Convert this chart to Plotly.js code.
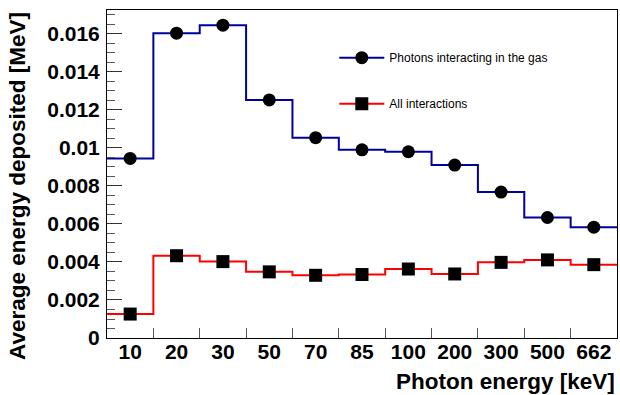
<!DOCTYPE html>
<html>
<head>
<meta charset="utf-8">
<script src="https://cdn.plot.ly/plotly-3.0.1.min.js"></script>
<style>html,body{margin:0;padding:0;background:#fff;}#chart{width:620px;height:395px;}</style>
</head>
<body>
<div id="chart"></div>
<script>
const categories = ['10','20','30','50','70','85','100','200','300','500','662'];
const gasValues = [0.00945, 0.01604, 0.01646, 0.01253, 0.01054, 0.00990, 0.00980, 0.00910, 0.00768, 0.00634, 0.00583];
const allValues = [0.00126, 0.00433, 0.00402, 0.00348, 0.00330, 0.00334, 0.00363, 0.00337, 0.00398, 0.00411, 0.00386];
const yTickVals = [0, 0.002, 0.004, 0.006, 0.008, 0.010, 0.012, 0.014, 0.016];
const yTickText = ['0', '0.002', '0.004', '0.006', '0.008', '0.01', '0.012', '0.014', '0.016'];
const seriesNames = ['Photons interacting in the gas', 'All interactions'];

const n = categories.length;
const edges = [];
for (let i = 0; i <= n; i++) edges.push(i);
const centers = categories.map((c, i) => i + 0.5);
const innerEdges = edges.slice(1, n);

const BLUE = '#00009c';
const RED = '#ff0000';
const FONT = 'Liberation Sans, Arial, Helvetica, sans-serif';

function stepTrace(vals, color) {
  return {
    x: edges, y: vals.concat([vals[vals.length - 1]]),
    type: 'scatter', mode: 'lines', line: {shape: 'hv', color: color, width: 2},
    showlegend: false, hoverinfo: 'skip'
  };
}
function markerTrace(vals, symbol) {
  return {
    x: centers, y: vals, type: 'scatter', mode: 'markers',
    marker: {symbol: symbol, size: 13, color: '#000'}, showlegend: false
  };
}
function legendTrace(name, color, symbol, group) {
  return {
    x: [null], y: [null], type: 'scatter', mode: 'lines+markers', name: name,
    legendgroup: group, line: {color: color, width: 2},
    marker: {symbol: symbol, size: 13, color: '#000'}
  };
}

const data = [
  stepTrace(gasValues, BLUE),
  stepTrace(allValues, RED),
  markerTrace(gasValues, 'circle'),
  markerTrace(allValues, 'square'),
  legendTrace(seriesNames[0], BLUE, 'circle', 'g1'),
  legendTrace(seriesNames[1], RED, 'square', 'g2')
];

const layout = {
  width: 620, height: 395,
  margin: {l: 107, r: 3, t: 10, b: 57, pad: 0},
  paper_bgcolor: '#fff', plot_bgcolor: '#fff',
  font: {family: FONT, color: '#000', size: 21, weight: 'bold'},
  showlegend: true,
  legend: {
    x: 0.4457, y: 0.899, xanchor: 'left', yanchor: 'top',
    bgcolor: 'rgba(0,0,0,0)', borderwidth: 0,
    font: {family: FONT, size: 12, weight: 'normal', color: '#000'},
    tracegroupgap: 27, itemwidth: 45
  },
  xaxis: {
    range: [0, n], tickmode: 'array', tickvals: centers, ticktext: categories,
    ticks: '', showgrid: false, zeroline: false,
    showline: true, mirror: true, linecolor: '#000', linewidth: 1,
    tickfont: {family: FONT, size: 21, weight: 'bold'},
    ticklabelstandoff: -5,
    minor: {tickmode: 'array', tickvals: innerEdges, ticks: 'inside', ticklen: 10, tickcolor: '#555', tickwidth: 1, showgrid: false}
  },
  yaxis: {
    range: [0, 0.01726], tickmode: 'array', tickvals: yTickVals, ticktext: yTickText,
    ticks: 'inside', ticklen: 15, tickcolor: '#333', tickwidth: 1,
    showgrid: false, zeroline: false,
    showline: true, mirror: true, linecolor: '#000', linewidth: 1,
    tickfont: {family: FONT, size: 21, weight: 'bold'},
    ticklabelstandoff: 2,
    minor: {dtick: 0.0005, tick0: 0, ticks: 'inside', ticklen: 8, tickcolor: '#555', tickwidth: 1, showgrid: false}
  },
  annotations: [
    {text: 'Photon energy [keV]', xref: 'paper', yref: 'paper', x: 1.0, y: -0.134,
     xanchor: 'right', yanchor: 'middle', showarrow: false,
     font: {family: FONT, size: 22.5, weight: 'bold', color: '#000'}},
    {text: 'Average energy deposited [MeV]', xref: 'paper', yref: 'paper', x: -0.205, y: 1.0,
     xanchor: 'left', yanchor: 'top', textangle: -90, showarrow: false,
     font: {family: FONT, size: 22.5, weight: 'bold', color: '#000'}}
  ]
};

Plotly.newPlot('chart', data, layout, {displayModeBar: false, staticPlot: true});
</script>
</body>
</html>
